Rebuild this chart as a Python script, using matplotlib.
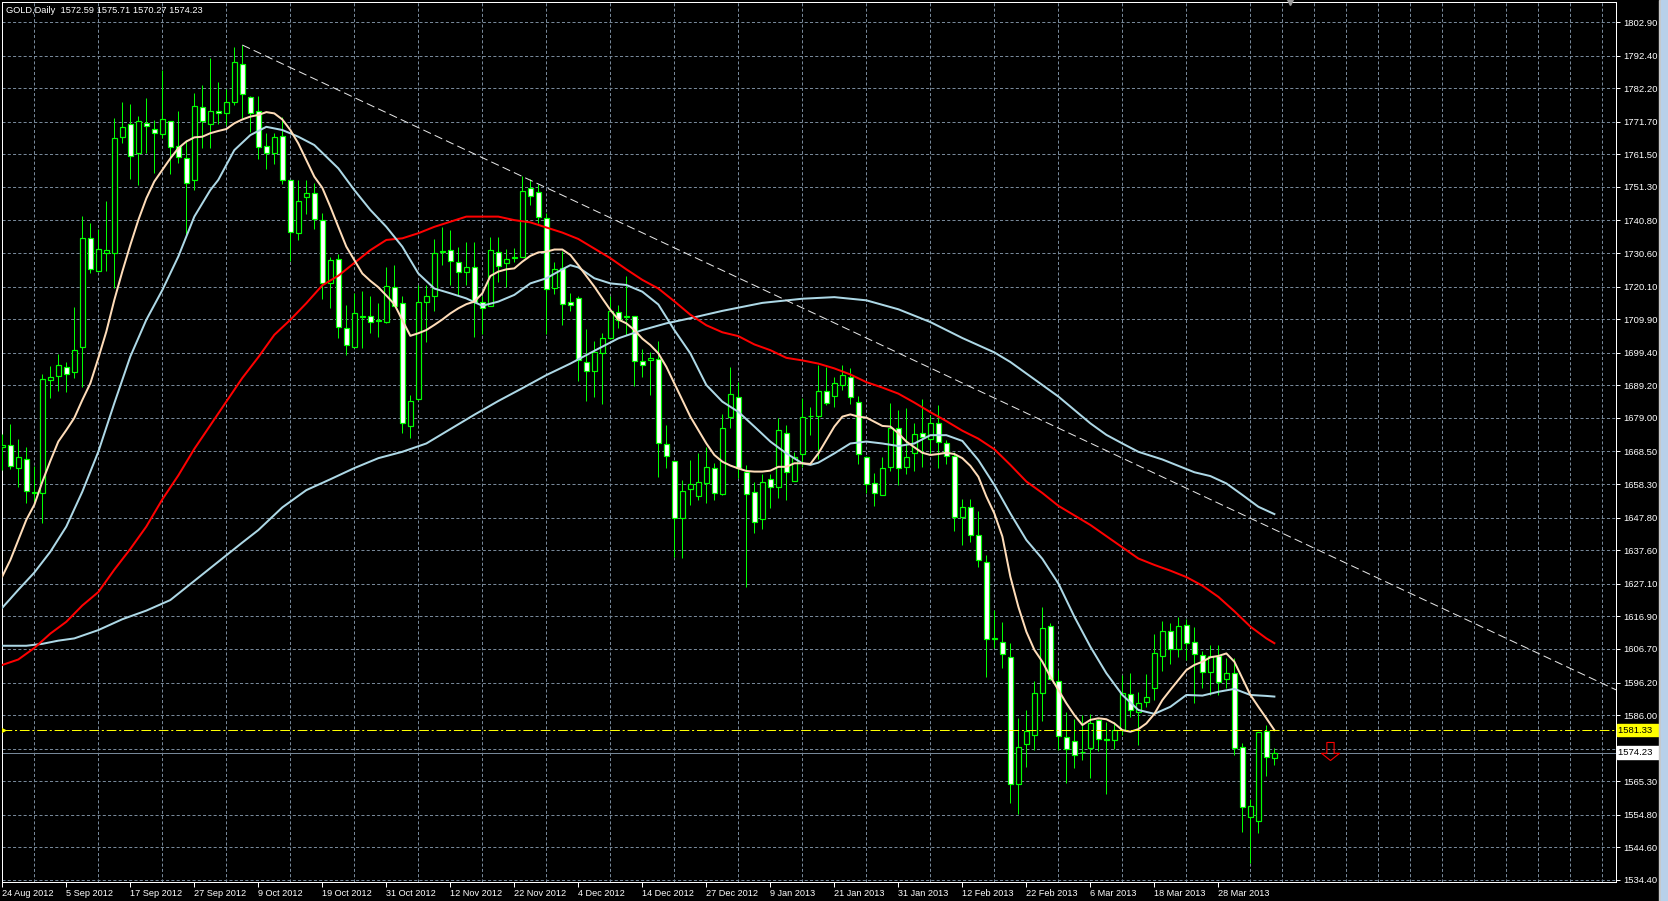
import matplotlib
matplotlib.use('Agg')
import matplotlib.pyplot as plt
from matplotlib.patches import Rectangle
from matplotlib.path import Path
import numpy as np

plt.rcParams['font.family'] = ['Liberation Sans', 'DejaVu Sans']
plt.rcParams['lines.scale_dashes'] = False

# ---- data (GOLD, Daily, 24 Aug 2012 -> early Apr 2013) ----
opens = [1670.0, 1670.4, 1663.2, 1666.0, 1655.5, 1655.4, 1690.9, 1692.0, 1694.8, 1693.3,
         1701.1, 1735.2, 1725.1, 1730.5, 1730.7, 1767.0, 1770.9, 1761.8, 1771.2, 1769.3,
         1767.8, 1771.9, 1764.1, 1760.2, 1753.3, 1776.4, 1770.9, 1775.1, 1774.3, 1777.8,
         1789.7, 1779.5, 1775.2, 1764.2, 1761.8, 1767.3, 1753.3, 1736.8, 1748.2, 1749.3,
         1740.9, 1721.1, 1728.6, 1707.0, 1701.3, 1710.7, 1711.0, 1709.2, 1708.9, 1719.9,
         1715.1, 1676.5, 1684.8, 1715.4, 1717.3, 1730.9, 1731.5, 1727.7, 1724.6, 1726.1,
         1715.4, 1714.0, 1731.0, 1727.6, 1728.9, 1729.5, 1751.0, 1749.6, 1741.5, 1719.6,
         1725.8, 1715.4, 1716.4, 1696.4, 1693.8, 1699.2, 1703.9, 1712.3, 1710.5, 1710.9,
         1696.9, 1697.1, 1697.3, 1670.7, 1665.5, 1647.6, 1656.9, 1654.7, 1658.7, 1663.2,
         1655.1, 1679.4, 1685.4, 1662.2, 1655.7, 1647.3, 1659.8, 1657.3, 1674.2, 1659.4,
         1667.6, 1679.5, 1679.7, 1687.4, 1686.0, 1689.3, 1691.7, 1684.1, 1666.9, 1658.5,
         1654.9, 1663.7, 1675.7, 1663.5, 1667.9, 1674.4, 1672.3, 1677.3, 1671.0, 1667.1,
         1648.1, 1651.0, 1642.4, 1633.8, 1609.9, 1609.0, 1604.3, 1564.4, 1577.0, 1579.8,
         1592.8, 1614.0, 1596.8, 1579.3, 1578.0, 1574.4, 1575.6, 1584.5, 1578.4, 1578.2,
         1581.3, 1592.5, 1587.1, 1590.2, 1594.4, 1604.5, 1612.4, 1606.7, 1614.2, 1609.0,
         1604.8, 1599.6, 1604.5, 1597.2, 1599.1, 1575.9, 1554.2, 1553.0, 1581.0, 1572.59]
highs = [1674.0, 1677.1, 1672.3, 1669.8, 1664.0, 1692.7, 1695.3, 1699.0, 1696.4, 1713.8,
         1742.2, 1740.1, 1738.0, 1746.9, 1773.0, 1778.0, 1777.2, 1773.5, 1779.0, 1772.2,
         1787.9, 1772.0, 1775.1, 1766.0, 1780.6, 1783.2, 1791.5, 1784.0, 1781.8, 1795.2,
         1795.7, 1779.6, 1779.7, 1768.1, 1768.1, 1773.1, 1753.4, 1753.3, 1753.3, 1752.6,
         1743.2, 1729.5, 1730.3, 1714.3, 1718.2, 1718.7, 1717.2, 1715.1, 1726.3, 1726.8,
         1717.0, 1686.2, 1720.6, 1720.6, 1734.9, 1738.6, 1737.8, 1732.6, 1734.0, 1734.0,
         1717.0, 1735.5, 1735.5, 1731.8, 1732.3, 1754.7, 1753.7, 1752.2, 1743.2, 1727.9,
         1731.3, 1718.0, 1717.3, 1706.7, 1703.1, 1705.7, 1717.3, 1714.3, 1723.4, 1711.0,
         1700.5, 1699.7, 1703.2, 1676.8, 1665.6, 1659.6, 1665.8, 1667.9, 1670.0, 1664.8,
         1680.1, 1695.0, 1690.3, 1664.3, 1658.8, 1661.6, 1661.4, 1678.9, 1676.8, 1668.4,
         1685.1, 1682.3, 1695.6, 1695.0, 1691.7, 1695.6, 1694.5, 1685.9, 1667.0, 1661.9,
         1666.9, 1683.6, 1681.5, 1682.0, 1677.3, 1684.8, 1679.6, 1683.0, 1672.1, 1668.4,
         1653.5, 1653.5, 1649.9, 1636.1, 1618.9, 1615.0, 1608.7, 1585.2, 1587.6, 1596.8,
         1619.9, 1614.7, 1600.1, 1587.1, 1584.7, 1586.0, 1586.4, 1584.7, 1583.9, 1583.9,
         1598.6, 1599.1, 1593.3, 1598.9, 1611.4, 1615.6, 1614.7, 1616.6, 1616.0, 1613.7,
         1606.2, 1607.9, 1607.9, 1603.8, 1603.8, 1577.2, 1559.6, 1580.8, 1582.9, 1575.71]
lows = [1662.7, 1662.9, 1657.3, 1652.5, 1652.2, 1646.0, 1685.3, 1687.5, 1687.0, 1691.4,
        1688.8, 1724.5, 1725.1, 1725.1, 1719.8, 1765.1, 1753.8, 1751.9, 1761.8, 1755.5,
        1766.5, 1755.3, 1758.7, 1736.2, 1750.3, 1763.4, 1763.4, 1770.9, 1770.7, 1776.9,
        1773.0, 1768.4, 1759.9, 1756.9, 1758.4, 1752.2, 1728.2, 1734.7, 1742.7, 1738.0,
        1716.1, 1713.3, 1703.9, 1698.7, 1701.2, 1700.8, 1705.7, 1704.4, 1708.8, 1713.9,
        1674.4, 1672.6, 1684.7, 1702.9, 1712.5, 1726.8, 1720.6, 1717.5, 1720.6, 1704.4,
        1705.3, 1713.9, 1721.6, 1720.1, 1727.9, 1729.4, 1745.6, 1740.1, 1705.3, 1717.8,
        1708.1, 1712.5, 1690.7, 1684.4, 1685.6, 1683.3, 1703.8, 1707.0, 1704.9, 1689.0,
        1691.9, 1686.2, 1660.6, 1663.2, 1635.6, 1635.1, 1651.7, 1653.3, 1652.3, 1653.3,
        1655.0, 1675.7, 1660.1, 1626.0, 1642.9, 1644.1, 1650.7, 1653.8, 1653.3, 1659.3,
        1663.7, 1673.6, 1666.3, 1683.0, 1682.3, 1687.7, 1683.3, 1664.6, 1655.6, 1651.5,
        1654.8, 1662.5, 1658.0, 1661.4, 1662.5, 1663.7, 1667.9, 1663.2, 1664.6, 1643.7,
        1639.2, 1640.3, 1632.5, 1597.8, 1606.9, 1600.6, 1558.4, 1555.1, 1569.7, 1575.1,
        1584.3, 1597.1, 1575.1, 1564.6, 1569.3, 1572.0, 1566.2, 1574.9, 1561.2, 1575.3,
        1579.8, 1585.5, 1576.7, 1588.6, 1590.7, 1599.9, 1602.0, 1604.3, 1603.2, 1589.7,
        1594.4, 1592.3, 1592.3, 1594.4, 1573.5, 1549.5, 1539.8, 1549.2, 1566.9, 1570.27]
closes = [1670.6, 1664.0, 1666.7, 1656.0, 1655.8, 1691.1, 1691.9, 1695.5, 1692.7, 1700.1,
          1735.2, 1725.7, 1731.8, 1731.4, 1766.5, 1769.9, 1761.1, 1771.9, 1770.2, 1768.1,
          1772.4, 1763.9, 1760.6, 1752.4, 1776.7, 1771.9, 1774.9, 1774.5, 1777.8, 1790.3,
          1780.3, 1774.3, 1763.9, 1761.8, 1766.8, 1753.3, 1737.1, 1747.0, 1749.5, 1741.1,
          1721.1, 1728.4, 1707.3, 1701.8, 1711.7, 1711.0, 1708.9, 1709.6, 1720.4, 1714.0,
          1677.3, 1684.4, 1715.4, 1717.0, 1730.7, 1731.1, 1728.1, 1724.6, 1726.1, 1715.4,
          1713.3, 1731.5, 1726.6, 1728.6, 1729.5, 1750.1, 1748.5, 1742.0, 1719.2, 1725.5,
          1714.5, 1714.3, 1697.1, 1693.7, 1699.5, 1703.9, 1712.6, 1709.8, 1711.0, 1696.8,
          1695.6, 1697.9, 1671.0, 1667.1, 1647.6, 1656.2, 1658.2, 1659.0, 1663.5, 1655.4,
          1675.7, 1686.5, 1663.2, 1655.2, 1646.3, 1658.8, 1657.3, 1675.2, 1662.2, 1666.9,
          1679.2, 1679.7, 1687.4, 1683.6, 1689.8, 1692.4, 1685.4, 1667.7, 1658.3, 1655.4,
          1663.2, 1675.7, 1663.2, 1666.9, 1673.9, 1672.9, 1677.3, 1671.6, 1667.1, 1648.1,
          1651.0, 1642.4, 1634.5, 1609.8, 1610.1, 1605.1, 1564.4, 1575.9, 1581.0, 1592.8,
          1613.2, 1597.2, 1579.5, 1575.4, 1573.5, 1574.6, 1583.4, 1578.5, 1578.2, 1581.3,
          1592.8, 1587.6, 1589.7, 1591.6, 1605.3, 1612.4, 1606.7, 1614.0, 1608.5, 1605.1,
          1599.6, 1604.5, 1596.5, 1599.1, 1575.6, 1557.3, 1557.5, 1580.6, 1573.0, 1574.23]

# fast moving average (peach line), one value per bar
ma_fast = [1629.4, 1634.5, 1640.8, 1647.1, 1651.8, 1659.0, 1665.5, 1671.6, 1675.2, 1679.0,
           1684.6, 1689.8, 1697.7, 1706.0, 1715.9, 1724.8, 1733.1, 1740.9, 1747.7, 1753.0,
           1756.6, 1760.2, 1763.4, 1765.5, 1766.8, 1767.0, 1768.1, 1768.8, 1769.4, 1771.2,
           1772.4, 1773.3, 1773.8, 1774.7, 1774.3, 1772.4, 1769.1, 1764.9, 1759.7, 1754.5,
           1751.0, 1745.1, 1738.8, 1732.6, 1728.4, 1724.2, 1721.9, 1719.9, 1717.3, 1714.6,
           1709.6, 1704.7, 1705.5, 1706.5, 1708.1, 1709.8, 1711.7, 1713.3, 1714.6, 1715.4,
           1718.0, 1723.4, 1724.8, 1725.5, 1725.8, 1727.9, 1729.7, 1730.8, 1731.0, 1731.7,
           1731.7, 1730.0, 1726.8, 1723.4, 1720.1, 1716.4, 1712.8, 1709.8, 1708.6, 1706.5,
           1703.8, 1701.8, 1699.2, 1695.0, 1689.8, 1684.6, 1679.4, 1675.2, 1671.0, 1667.4,
           1665.3, 1664.1, 1663.2, 1662.4, 1662.2, 1662.2, 1662.5, 1663.7, 1663.7, 1664.8,
           1664.8, 1664.6, 1667.9, 1672.1, 1676.3, 1679.4, 1680.1, 1679.4, 1679.1, 1677.8,
           1676.5, 1676.3, 1674.2, 1671.6, 1669.8, 1668.1, 1667.4, 1667.7, 1668.1, 1667.7,
           1666.4, 1664.0, 1660.6, 1654.4, 1649.1, 1641.9, 1629.3, 1619.9, 1612.1, 1606.4,
           1602.7, 1598.0, 1593.9, 1589.7, 1586.0, 1582.9, 1584.5, 1585.0, 1584.7, 1583.4,
           1581.3, 1580.8, 1581.6, 1583.4, 1586.4, 1590.7, 1593.9, 1597.0, 1600.1, 1601.7,
           1602.7, 1604.1, 1604.5, 1605.3, 1602.7, 1597.5, 1592.3, 1588.6, 1585.0, 1581.3]

# the slower averages were read at a subset of bars
ma_mid_bars = [0, 2, 4, 6, 8, 10, 12, 14, 16, 18, 20, 22, 24, 26, 27, 29, 31, 33, 35, 37,
               39, 42, 44, 46, 48, 50, 52, 54, 56, 58, 60, 62, 64, 66, 68, 70, 71, 72, 74, 76,
               78, 80, 82, 84, 86, 88, 90, 92, 94, 96, 98, 100, 101, 102, 104, 106, 108, 110, 112, 114,
               116, 118, 120, 122, 124, 126, 128, 130, 132, 134, 136, 138, 140, 142, 144, 146, 148, 150, 152, 154,
               156, 158, 159]
ma_mid = [1619.6, 1625.2, 1630.6, 1637.1, 1645.0, 1655.9, 1668.4, 1683.6, 1698.2, 1709.7,
          1719.0, 1729.5, 1742.0, 1750.3, 1753.5, 1762.8, 1767.5, 1770.1, 1769.1, 1767.0,
          1764.4, 1757.1, 1750.3, 1744.1, 1738.8, 1732.6, 1724.2, 1719.5, 1718.0, 1716.4,
          1714.1, 1715.4, 1717.5, 1721.1, 1722.7, 1725.5, 1726.8, 1726.1, 1722.7, 1721.1,
          1720.6, 1718.5, 1714.5, 1706.5, 1699.2, 1689.3, 1684.1, 1680.9, 1676.3, 1671.6,
          1667.9, 1664.8, 1664.3, 1665.0, 1667.9, 1671.0, 1671.6, 1671.0, 1670.2, 1671.0,
          1673.6, 1673.6, 1671.8, 1665.8, 1658.0, 1649.1, 1640.8, 1634.9, 1627.2, 1616.8,
          1607.4, 1599.1, 1592.3, 1587.6, 1586.4, 1588.6, 1592.3, 1592.1, 1593.3, 1594.2,
          1592.3, 1592.0, 1591.8]

ma_red_bars = [0, 2, 4, 6, 8, 10, 12, 14, 16, 18, 20, 22, 24, 27, 30, 32, 34, 36, 38, 40,
               42, 44, 46, 48, 50, 52, 54, 56, 58, 60, 62, 64, 66, 68, 70, 72, 74, 76, 78, 80,
               82, 84, 86, 88, 90, 92, 94, 96, 98, 100, 102, 104, 106, 108, 110, 112, 114, 116, 118, 120,
               122, 124, 126, 128, 130, 132, 134, 136, 138, 140, 142, 144, 146, 148, 150, 152, 154, 156, 158, 159]
ma_red = [1601.7, 1603.4, 1607.0, 1611.5, 1615.2, 1620.3, 1624.5, 1631.5, 1638.0, 1645.0,
          1653.5, 1661.0, 1669.3, 1680.4, 1691.5, 1698.0, 1705.0, 1709.7, 1714.9, 1720.5,
          1723.5, 1727.5, 1731.5, 1734.7, 1735.2, 1736.8, 1738.8, 1740.4, 1742.0, 1742.0,
          1742.0, 1740.9, 1740.2, 1738.6, 1737.0, 1735.0, 1732.0, 1729.0, 1725.5, 1722.2,
          1719.5, 1715.5, 1711.3, 1708.0, 1705.8, 1704.6, 1702.0, 1700.2, 1697.8, 1697.0,
          1696.0, 1694.5, 1692.6, 1690.2, 1688.5, 1686.6, 1683.8, 1680.8, 1678.0, 1675.0,
          1672.5, 1669.2, 1664.3, 1659.1, 1655.5, 1651.5, 1648.5, 1645.5, 1642.0, 1638.5,
          1635.0, 1633.0, 1631.2, 1629.2, 1626.5, 1623.0, 1618.5, 1613.7, 1610.0, 1608.5]

ma_slow_bars = [0, 3, 5, 7, 9, 12, 15, 18, 21, 24, 26, 28, 30, 32, 35, 38, 41, 44, 47, 50,
                53, 56, 59, 62, 65, 68, 71, 74, 77, 80, 83, 86, 90, 95, 100, 104, 108, 112, 116, 120,
                124, 126, 128, 130, 132, 134, 136, 138, 140, 142, 145, 147, 149, 151, 153, 155, 157, 159]
ma_slow = [1607.7, 1607.7, 1608.3, 1609.3, 1610.0, 1612.6, 1616.0, 1618.7, 1622.0, 1628.0,
           1632.0, 1636.0, 1640.0, 1643.9, 1651.0, 1656.4, 1659.8, 1663.3, 1666.4, 1668.4,
           1671.0, 1675.5, 1680.0, 1684.3, 1688.3, 1692.4, 1696.0, 1700.0, 1703.9, 1706.5,
           1708.6, 1710.2, 1712.5, 1715.0, 1716.3, 1716.8, 1715.8, 1713.0, 1709.0, 1704.0,
           1699.5, 1696.5, 1692.9, 1689.3, 1685.7, 1681.5, 1677.3, 1673.7, 1671.0, 1668.4,
           1666.0, 1664.0, 1662.0, 1660.8, 1658.5, 1654.9, 1651.2, 1648.9]

# hand drawn objects on the chart
trend_bars = [30, 201.7]
trend_prices = [1795.7, 1593.9]
level_line = 1581.33
arrow_bar, arrow_price = 166, 1574.8

date_bars = list(range(0, 153, 8))
date_labels = ['24 Aug 2012', '5 Sep 2012', '17 Sep 2012', '27 Sep 2012', '9 Oct 2012',
               '19 Oct 2012', '31 Oct 2012', '12 Nov 2012', '22 Nov 2012', '4 Dec 2012',
               '14 Dec 2012', '27 Dec 2012', '9 Jan 2013', '21 Jan 2013', '31 Jan 2013',
               '12 Feb 2013', '22 Feb 2013', '6 Mar 2013', '18 Mar 2013', '28 Mar 2013']
price_ticks = [1802.90, 1792.40, 1782.20, 1771.70, 1761.50, 1751.30, 1740.80, 1730.60, 1720.10,
               1709.90, 1699.40, 1689.20, 1679.00, 1668.50, 1658.30, 1647.80, 1637.60, 1627.10,
               1616.90, 1606.70, 1596.20, 1586.00, 1575.50, 1565.30, 1554.80, 1544.60, 1534.40]

# ---- figure ----
W, H = 1668, 901
fig = plt.figure(figsize=(W / 100, H / 100), dpi=100)
fig.patch.set_facecolor('black')
ax = fig.add_axes([1.7 / W, 19 / H, (1616 - 1.7) / W, 880 / H])
ax.set_facecolor('black')

GREEN = '#00ff00'
GRID = '#778899'
px = 0.72  # one pixel in points

x = np.arange(len(opens))
o = np.array(opens)
c = np.array(closes)
up = c >= o

# wicks first, bodies on top (bull body is hollow/black, bear body is white)
ax.vlines(x, lows, highs, color=GREEN, linewidth=px, zorder=3)
body_lo = np.minimum(o, c)
body_h = np.maximum(np.abs(c - o), 0.15)
ax.bar(x[up], body_h[up], bottom=body_lo[up], width=0.55, color='black',
       edgecolor=GREEN, linewidth=px * 1.2, zorder=4)
ax.bar(x[~up], body_h[~up], bottom=body_lo[~up], width=0.55, color='white',
       edgecolor=GREEN, linewidth=px * 1.2, zorder=4)

# moving averages
ax.plot(ma_slow_bars, ma_slow, color='#add8e6', linewidth=2 * px, zorder=5)
ax.plot(ma_red_bars, ma_red, color='#ff0000', linewidth=2 * px, zorder=5)
ax.plot(ma_mid_bars, ma_mid, color='#add8e6', linewidth=2 * px, zorder=5)
ax.plot(x, ma_fast, color='#ffdcb8', linewidth=2 * px, zorder=6)

# trend line, level line and bid line
ax.plot(trend_bars, trend_prices, color='#e8e8e8', linewidth=px,
        linestyle=(0, (6, 3)), zorder=6)
ax.axhline(level_line, color='#ffff00', linewidth=px,
           linestyle=(0, (7, 2, 1.5, 2)), zorder=6)
ax.axhline(closes[-1], color=GRID, linewidth=px, zorder=2)
ax.plot([0.1], [level_line], marker='>', color='#ffff00', markersize=3, zorder=7)

# hollow red "sell" arrow object (shape of the mt4 arrow)
arrow_shape = Path([(-0.4, 1), (0.4, 1), (0.4, -0.2), (1, -0.2), (0, -1),
                    (-1, -0.2), (-0.4, -0.2), (-0.4, 1)], closed=True)
ax.plot([arrow_bar], [arrow_price], marker=arrow_shape, markersize=13,
        markerfacecolor='none', markeredgecolor='red', markeredgewidth=1.1 * px, zorder=7)

# shift marker at the top
ax.plot([161], [1], transform=ax.get_xaxis_transform(), marker='v', color='#9a9a9a',
        markersize=4, clip_on=False, zorder=7)

# axes, ticks and grid
ax.set_xlim(-0.075, 201.7)
ax.set_ylim(1533.77, 1809.16)
for s in ax.spines.values():
    s.set_color('white')
    s.set_linewidth(px)

ax.set_xticks(date_bars, labels=date_labels)
ax.set_xticks(np.arange(4, 202, 4), minor=True)
ax.tick_params(axis='x', which='major', colors='white', length=3.5, width=px,
               pad=1.5, labelsize=6.6)
ax.tick_params(axis='x', which='minor', length=0)
for lab in ax.get_xticklabels():
    lab.set_horizontalalignment('left')

# the 1575.50 label sits under the bid price box, so it is left blank
ax.yaxis.tick_right()
ax.set_yticks(price_ticks, labels=['' if abs(v - closes[-1]) < 2 else f'{v:.2f}'
                                   for v in price_ticks])
ax.tick_params(axis='y', colors='white', length=3, width=px, pad=2.5, labelsize=6.8)

ax.set_axisbelow(True)
ax.grid(True, axis='x', which='minor', color=GRID, linewidth=px, linestyle=(0, (2.2, 1.6)))
ax.grid(True, axis='y', which='major', color=GRID, linewidth=px, linestyle=(0, (2.2, 1.6)))

# price boxes on the right scale
ytr = ax.get_yaxis_transform()
ax.text(1.0015, level_line, f'{level_line:.2f}  ', transform=ytr, color='black',
        fontsize=6.8, va='center', ha='left', clip_on=False, zorder=10,
        bbox=dict(boxstyle='square,pad=0.2', fc='#ffff00', ec='#ffff00'))
ax.text(1.0015, closes[-1], f'{closes[-1]:.2f}  ', transform=ytr, color='black',
        fontsize=6.8, va='center', ha='left', clip_on=False, zorder=10,
        bbox=dict(boxstyle='square,pad=0.2', fc='white', ec='white'))

# chart header
fig.text(6.5 / W, 1 - 10.5 / H,
         'GOLD,Daily  ' + ' '.join(f'{v:.2f}' for v in
                                   (opens[-1], highs[-1], lows[-1], closes[-1])),
         color='white', fontsize=6.7, va='center', ha='left')

# window edge on the far right
fig.add_artist(Rectangle((1659 / W, 0), 1.5 / W, 1, transform=fig.transFigure,
                         color='#c8c8c8'))
fig.add_artist(Rectangle((1661 / W, 0), 7 / W, 1, transform=fig.transFigure,
                         color='#b8d0ea'))

fig.savefig('out.png', dpi=100, facecolor='black')
